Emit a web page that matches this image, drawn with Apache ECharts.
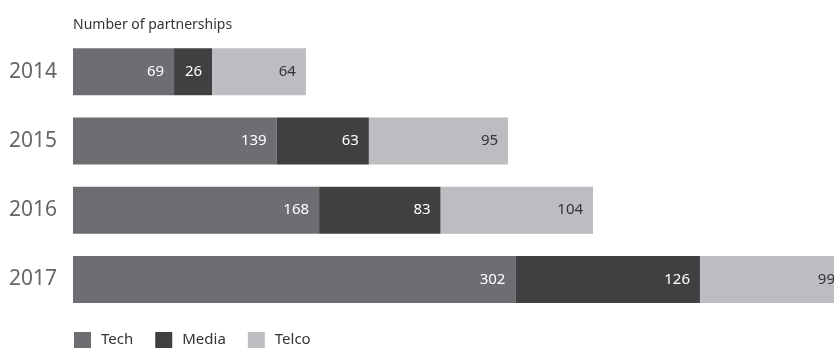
<!DOCTYPE html>
<html>
<head>
<meta charset="utf-8">
<script src="https://cdn.jsdelivr.net/npm/echarts@6/dist/echarts.min.js"></script>
<style>
  html, body { margin: 0; padding: 0; background: #fff; }
  #chart { width: 834px; height: 349px; }
</style>
</head>
<body>
<div id="chart"></div>
<script>
// data
var years = ['2014', '2015', '2016', '2017'];
var tech = [69, 139, 168, 302];
var media = [26, 63, 83, 126];
var telco = [64, 95, 104, 99];

var chart = echarts.init(document.getElementById('chart'));

function makeSeries(name, data, color, labelColor) {
  return {
    name: name,
    type: 'bar',
    stack: 'total',
    data: data,
    barWidth: 47,
    clip: false,
    itemStyle: { color: color },
    label: {
      show: true,
      position: 'insideRight',
      distance: 10,
      color: labelColor,
      fontSize: 15,
      fontFamily: 'Noto Sans'
    },
    emphasis: { disabled: true }
  };
}

chart.setOption({
  animation: false,
  title: {
    text: 'Number of partnerships',
    left: 73,
    top: 18,
    padding: 0,
    textStyle: { fontSize: 14, fontWeight: 'normal', color: '#333', fontFamily: 'Noto Sans' }
  },
  legend: {
    left: 74,
    top: 332,
    padding: 0,
    itemWidth: 17,
    itemHeight: 16,
    itemGap: 22,
    icon: 'rect',
    textStyle: { fontSize: 15, color: '#333', fontFamily: 'Noto Sans', padding: [0, 0, 0, 5] },
    data: ['Tech', 'Media', 'Telco']
  },
  grid: { left: 73, top: 37, width: 772, height: 277, outerBoundsMode: 'none' },
  xAxis: {
    type: 'value',
    min: 0,
    max: 527,
    show: false
  },
  yAxis: {
    type: 'category',
    data: years,
    inverse: true,
    axisLine: { show: false },
    axisTick: { show: false },
    axisLabel: { color: '#666', fontSize: 21, margin: 16, fontFamily: 'Noto Sans' }
  },
  series: [
    makeSeries('Tech', tech, '#6d6e72', '#fff'),
    makeSeries('Media', media, '#404042', '#fff'),
    makeSeries('Telco', telco, '#bcbdc0', '#333')
  ]
});
</script>
</body>
</html>
